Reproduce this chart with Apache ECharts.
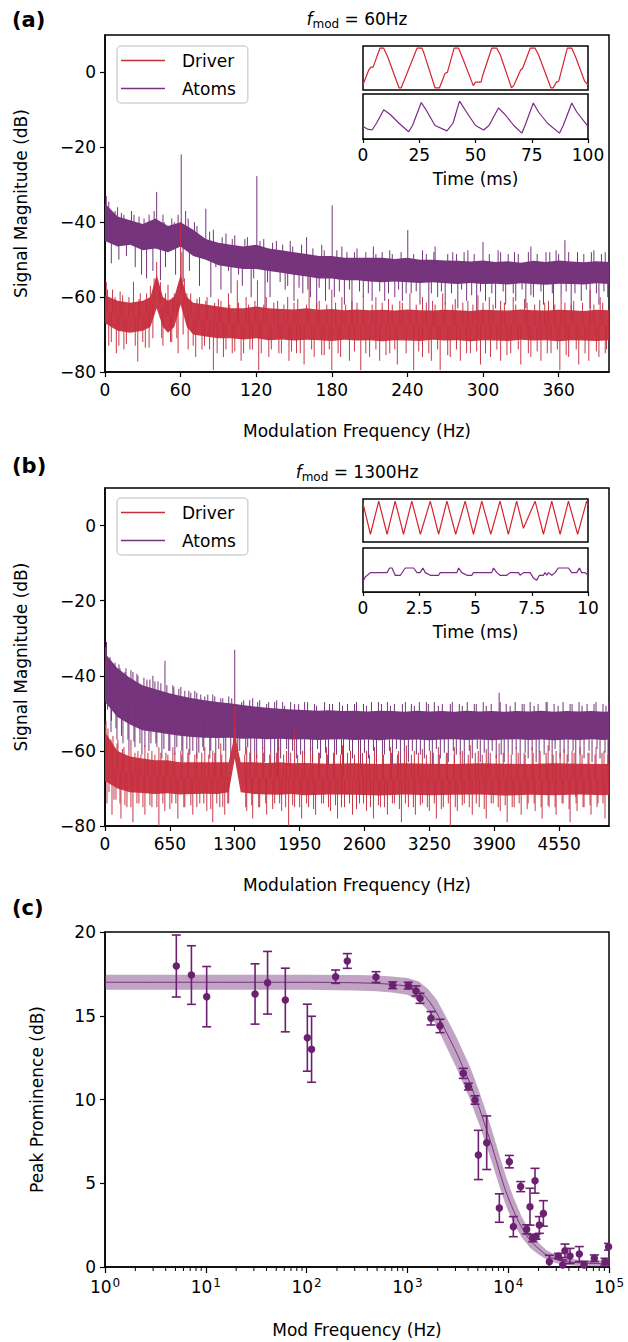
<!DOCTYPE html>
<html><head><meta charset="utf-8">
<script src="https://cdn.jsdelivr.net/npm/echarts@6.0.0/dist/echarts.min.js"></script>
<style>html,body{margin:0;padding:0;background:#fff}#c{width:628px;height:1342px}</style>
</head><body><div id="c"></div>
<script>
// ---------------- Panel (a): f_mod = 60 Hz ----------------
const aF = [0,10,20,30,40,50,60,70,80,90,100,110,120,130,140,150,160,170,180,190,200,210,220,230,240,250,260,270,280,290,300,310,320,330,340,350,360,370,380,390,400];
const aAtomsTop = [-35,-38.5,-39.5,-40.5,-39,-41,-40,-42,-44.5,-45.5,-46,-46.5,-46,-47,-47.5,-48,-48.5,-49,-49,-49.5,-49.5,-49.5,-49.5,-49.8,-49.5,-50,-50,-50.2,-50.3,-50.5,-50.2,-50.6,-50.4,-50.8,-50.3,-50.6,-50.2,-50.5,-50.7,-50.4,-50.6];
const aAtomsBot = [-45,-46.5,-46,-47.5,-47,-48,-46.5,-49,-50,-51.5,-52,-52.5,-52.5,-53,-53.5,-54,-54.5,-55,-55,-55.5,-55.5,-55.8,-56,-55.8,-56,-56.2,-56,-56.3,-56.5,-56.2,-56.5,-56.4,-56.6,-56.3,-56.5,-56.7,-56.4,-56.5,-56.6,-56.3,-56.5];
const aDF = [0,10,20,30,36,41,46,50,55,60,65,70,80,90,100,110,120,130,140,150,160,170,180,190,200,210,220,230,240,250,260,270,280,290,300,310,320,330,340,350,360,370,380,390,400];
const aDriverTop = [-59.5,-61,-61.5,-61,-60,-54,-60,-61,-60,-54,-60,-61.5,-62,-62.5,-63,-63,-62.5,-63,-63.2,-63.3,-63,-63.4,-63.2,-63.5,-63.3,-63.5,-63.4,-63.6,-63.3,-63.5,-63.6,-63.4,-63.5,-63.7,-63.4,-63.5,-63.6,-63.3,-63.5,-63.6,-63.4,-63.5,-63.7,-63.4,-63.5];
const aDriverBot = [-67,-69,-69.5,-69,-68,-63,-68,-69.5,-68,-62,-68,-70,-70.5,-71,-71,-71.3,-71,-71.5,-71.3,-71.6,-71.4,-71.5,-71.7,-71.4,-71.6,-71.5,-71.8,-71.5,-71.6,-71.7,-71.4,-71.6,-71.5,-71.8,-71.5,-71.6,-71.7,-71.4,-71.6,-71.5,-71.8,-71.5,-71.6,-71.7,-71.5];
const aAtomsUp = [[1,-33],[3,-34.5],[8,-37],[13,-37.5],[21,-37],[27,-38.5],[35,-38],[41,-31.9],[46,-38],[53,-39],[60.5,-21.9],[64,-37],[71,-40],[80,-36.4],[86,-42],[96,-43],[103,-43.5],[113,-44],[120.5,-27.7],[126,-44.5],[136,-45],[147,-45],[160,-44],[172,-46],[180.3,-35.5],[188,-46.5],[200,-47],[213,-46.5],[226,-47.5],[240.3,-42.1],[252,-47.5],[262,-46.5],[276,-48],[288,-47.5],[300,-45.3],[312,-47.5],[325,-48],[338,-46.5],[350,-48],[358,-47.5],[365,-44.8],[375,-48],[388,-47.5],[397,-48]];
const aAtomsDown = [[5,-51],[11,-50],[17,-49],[24,-52],[29,-54],[33,-55],[38,-53],[44,-55.5],[48,-52],[56,-54],[62,-56],[67,-53],[75,-57],[84,-60],[92,-58],[100,-59],[109,-57],[116,-60],[127,-63.5],[131,-60],[143,-58],[150,-61],[157,-59],[163,-60],[168,-65.2],[175,-61],[182,-60],[190,-62],[196,-66.9],[205,-60],[212,-61],[222,-61],[230,-60],[236,-61],[243,-59],[250,-62],[257,-64],[264,-60],[270,-62],[280,-63],[287,-61],[295,-65],[302,-61],[310,-63],[318,-62],[326,-61],[334,-63],[340,-60],[348,-62],[356,-64],[362,-60],[370,-65.5],[378,-61],[385,-63],[392,-62],[399,-60]];
const aAtomsFringe = [[4,-36.5],[7,-41],[10,-36],[15,-38],[18,-44],[23,-38],[26,-44],[31,-39],[34,-45.5],[39,-37],[43,-46],[47,-40],[51,-46],[55,-40],[58,-38],[62,-47],[66,-39],[69,-48],[73,-41],[77,-49],[83,-42.5],[88,-52],[93,-44],[98,-53],[101,-44.5],[106,-54],[111,-44.5],[118,-55],[123,-45],[129,-56],[133,-45.5],[139,-56],[141,-46],[145,-57],[149,-46.5],[154,-57.5],[156,-46],[161,-58],[165,-47],[170,-57.5],[174,-47.5],[178,-58],[184,-47.5],[186,-58.5],[192,-48],[194,-58],[198,-48],[202,-58.5],[207,-48],[209,-59],[215,-48.5],[218,-58.5],[220,-48],[225,-59],[228,-48.5],[233,-58],[235,-48],[239,-59],[245,-48.5],[247,-58.5],[255,-48.5],[259,-59],[261,-48],[267,-58.5],[272,-48.5],[275,-59],[279,-48.5],[283,-58],[285,-48],[291,-59.5],[293,-48.5],[298,-58.5],[305,-48.5],[307,-59],[314,-48],[316,-58.5],[320,-48.5],[324,-59],[328,-48.5],[331,-58],[336,-48],[338,-59.5],[343,-48.5],[346,-58.5],[353,-48],[355,-59],[360,-48.5],[366,-58.5],[368,-48],[373,-59],[380,-48.5],[382,-58],[386,-48],[390,-59],[394,-48.5],[396,-58.5]];
const aDriverUp = [[1,-56],[6,-58],[12,-58.5],[22.6,-55.9],[28,-59],[36,-57],[41,-50.6],[44,-56],[50,-56.7],[55,-59],[60,-39.9],[63,-55],[68,-59],[75,-60],[81,-60],[90,-60.5],[98,-59],[105,-55.5],[112,-60],[121,-55.5],[128,-60],[137,-61],[145,-60],[153,-60.5],[162,-54.7],[170,-61],[180,-58],[188,-60],[196,-61],[205,-59.5],[215,-60],[225,-60.5],[234,-61],[242,-59],[252,-60],[260,-61],[268,-59],[278,-60.5],[288,-61],[296,-59.5],[305,-60],[314,-61],[324,-60],[333,-60.5],[345,-60.8],[352,-61],[362,-60],[372,-61],[385,-58.1],[393,-60]];
const aDriverDown = [[3,-73],[9,-75],[15,-74],[26,-77.2],[32,-73.5],[38,-71],[46,-73],[53,-72],[58,-75],[66,-74],[72,-76],[79,-73],[86,-79.5],[94,-76],[101,-75],[108,-77],[115,-74],[122,-79.5],[130,-76],[138,-75],[146,-77],[152,-75],[158,-78],[166,-76],[174,-75.5],[180,-79.5],[187,-76],[194,-77],[203,-79.5],[210,-76],[218,-77],[226,-75],[232,-78],[245,-79.5],[252,-76],[259,-77],[266,-79.5],[274,-76],[282,-77],[290,-75],[298,-78],[306,-76],[314,-77],[322,-75],[330,-78],[338,-76],[346,-77],[354,-75],[361,-79.5],[368,-76],[376,-78],[384,-77],[392,-76],[398,-74]];
const aDriverFringe = [[2,-58],[5,-72],[8,-60],[11,-73],[14,-59.5],[17,-72.5],[19,-60],[24,-73],[27,-60.5],[30,-72],[33,-59],[35,-73.5],[39,-55],[43,-58],[45,-71],[48,-59],[52,-72],[54,-60],[57,-71],[61,-48],[62,-70],[65,-59],[70,-73],[73,-60.5],[77,-74],[80,-61],[83,-74],[87,-61.5],[89,-75],[92,-61],[96,-74],[99,-62],[103,-74.5],[106,-61.5],[110,-75],[114,-62],[117,-74],[119,-61],[124,-75],[126,-62],[132,-74],[134,-61.5],[140,-75],[142,-62],[148,-74.5],[150,-61.5],[155,-75],[160,-62],[164,-74],[168,-61.5],[172,-75.5],[176,-62],[178,-74],[183,-61.5],[185,-75],[191,-62],[198,-74.5],[200,-61.5],[207,-75],[212,-62],[215,-74],[220,-61.5],[223,-75.5],[228,-62],[230,-74],[236,-61.5],[239,-75],[247,-62],[249,-74.5],[255,-61.5],[257,-75],[262,-62],[264,-74],[270,-61.5],[272,-75.5],[276,-62],[279,-74],[284,-61.5],[287,-75],[292,-62],[295,-74.5],[300,-61.5],[302,-75],[308,-62],[311,-74],[317,-61.5],[319,-75.5],[326,-62],[328,-74],[335,-61.5],[336,-75],[341,-62],[343,-74.5],[349,-61.5],[351,-75],[357,-62],[359,-74],[365,-61.5],[366,-75.5],[370,-62],[374,-74],[379,-61.5],[381,-75],[388,-62],[390,-74.5],[395,-61.5],[397,-75]];
const aXTicks = [0,60,120,180,240,300,360];

// ---------------- Panel (b): f_mod = 1300 Hz ----------------
const bAtomsF = [0,125,250,375,500,625,750,875,1000,1125,1250,1375,1500,1625,1750,1875,2000,2125,2250,2375,2500,2625,2750,2875,3000,3125,3250,3375,3500,3625,3750,3875,4000,4125,4250,4375,4500,4625,4750,4875,5000,5050];
const bAtomsTop = [-34,-38,-40.5,-42.5,-43.5,-44.5,-45.3,-46,-46.5,-47,-47.3,-47.8,-48.2,-48.5,-48.8,-49,-49.1,-49.3,-49.2,-49.4,-49.3,-49.5,-49.3,-49.4,-49.6,-49.3,-49.5,-49.4,-49.6,-49.3,-49.5,-49.4,-49.6,-49.4,-49.5,-49.3,-49.6,-49.4,-49.5,-49.4,-49.6,-49.5];
const bAtomsBot = [-47,-51,-53,-54.5,-55,-55.5,-56,-56.3,-56.5,-56.6,-56.5,-56.8,-56.7,-56.9,-56.8,-57,-56.9,-57.1,-57,-56.9,-57.1,-57,-57.2,-56.9,-57.1,-57,-57.2,-57,-56.9,-57.1,-57,-57.2,-57,-56.9,-57.1,-57,-57.2,-57,-57.1,-56.9,-57.1,-57];
const bDriverF = [0,125,250,375,500,625,750,875,1000,1125,1240,1280,1300,1320,1360,1500,1625,1750,1875,2000,2250,2500,2750,3000,3250,3500,3750,4000,4250,4500,4750,5000,5050];
const bDriverTop = [-55,-60,-61.5,-62,-62.5,-62.5,-63,-63,-63,-63,-63,-58,-52,-58,-63,-63,-63.2,-63,-63.3,-63.2,-63.4,-63.3,-63.5,-63.3,-63.4,-63.5,-63.3,-63.4,-63.5,-63.3,-63.4,-63.5,-63.4];
const bDriverBot = [-68,-70,-71,-71.2,-71.5,-71.3,-71.6,-71.5,-71.4,-71.5,-71,-65,-62,-65,-71,-71.5,-71.6,-71.7,-71.5,-71.8,-71.6,-71.7,-71.9,-71.6,-71.8,-71.7,-71.6,-71.9,-71.7,-71.8,-71.6,-71.8,-71.7];
const bAtomsUp = [[5,-32.4],[40,-36],[90,-37],[150,-38],[200,-39],[260,-38.5],[330,-40],[420,-41],[480,-40],[531,-41.5],[601,-36],[680,-42.5],[760,-43],[840,-44],[920,-44.5],[1000,-45.5],[1080,-45],[1160,-46],[1240,-45.5],[1300,-33.1],[1370,-47],[1450,-46.5],[1530,-47],[1620,-47.5],[1700,-47],[1800,-48],[1900,-47.5],[2000,-47],[2120,-48],[2250,-47.5],[2380,-48],[2500,-47.5],[2620,-48],[2740,-47],[2860,-48],[2980,-47.5],[3100,-48],[3220,-47],[3340,-48],[3460,-47.5],[3580,-48],[3700,-47.5],[3820,-48],[3949,-44.5],[4060,-48],[4180,-47.5],[4300,-48],[4420,-47],[4540,-48],[4660,-47.5],[4780,-48],[4900,-47.5],[5020,-48]];
const bAtomsDown = [[60,-55],[120,-57],[180,-58],[240,-60],[300,-59],[370,-61],[440,-60],[510,-58],[570,-62],[640,-60],[700,-61],[780,-63],[850,-61],[920,-62],[990,-60],[1050,-62],[1110,-66.3],[1190,-60],[1260,-62],[1350,-60],[1410,-61],[1460,-64],[1520,-62],[1600,-63],[1700,-67.5],[1730,-67],[1760,-62],[1840,-64],[1920,-62],[2000,-61],[2080,-63],[2160,-62],[2240,-64],[2320,-61],[2390,-66.3],[2480,-62],[2560,-65],[2640,-62],[2720,-63],[2800,-61],[2880,-64],[2960,-66.3],[3040,-63],[3120,-61],[3200,-62],[3280,-64],[3360,-62],[3440,-63],[3520,-61],[3600,-64],[3680,-62],[3760,-63],[3840,-65],[3920,-62],[4000,-63],[4080,-61],[4160,-64],[4240,-62],[4320,-63],[4400,-61],[4480,-64],[4560,-62],[4640,-63],[4717,-72.2],[4800,-62],[4880,-63],[4960,-62],[5040,-70]];
const bAtomsFringe = [[15,-31],[25,-49],[50,-35],[65,-52],[100,-36.5],[110,-54],[140,-37],[165,-56],[210,-38],[230,-57],[280,-39],[290,-57.5],[320,-39.5],[350,-58],[390,-40.5],[400,-59],[450,-41],[460,-58],[500,-41.5],[520,-59],[560,-42],[590,-59.5],[620,-42.5],[650,-60],[690,-43],[720,-59],[740,-43.5],[770,-60],[800,-44],[820,-59.5],[860,-44.5],[880,-60],[900,-44],[940,-60.5],[960,-45],[980,-59],[1030,-45],[1060,-60],[1100,-45.5],[1140,-59.5],[1180,-46],[1210,-60],[1270,-46],[1330,-60],[1390,-46.5],[1430,-59],[1480,-46],[1500,-60],[1550,-46.5],[1580,-59.5],[1640,-47],[1660,-60.5],[1720,-46.5],[1740,-60],[1780,-47],[1820,-59.5],[1860,-47],[1880,-60],[1940,-47.5],[1960,-61],[2030,-47],[2060,-60],[2100,-47.5],[2130,-59.5],[2200,-47],[2210,-60.5],[2280,-47.5],[2300,-60],[2350,-47],[2370,-61],[2430,-47.5],[2450,-60],[2520,-47],[2540,-59.5],[2590,-47.5],[2600,-60.5],[2670,-47],[2690,-60],[2770,-47.5],[2780,-61],[2830,-47],[2850,-60],[2900,-47.5],[2920,-59.5],[3010,-47],[3000,-60.5],[3070,-47.5],[3080,-60],[3150,-47],[3160,-61],[3240,-47.5],[3250,-60],[3300,-47],[3320,-59.5],[3380,-47.5],[3400,-60.5],[3480,-47],[3490,-60],[3550,-47.5],[3560,-61],[3630,-47],[3650,-60],[3720,-47.5],[3730,-59.5],[3790,-47],[3800,-60.5],[3870,-47.5],[3880,-60],[3960,-47],[3970,-61],[4020,-47.5],[4040,-60],[4110,-47],[4120,-59.5],[4200,-47.5],[4210,-60.5],[4260,-47],[4280,-60],[4340,-47.5],[4350,-61],[4430,-47],[4450,-60],[4500,-47.5],[4510,-59.5],[4590,-47],[4600,-60.5],[4680,-47.5],[4690,-60],[4750,-47],[4760,-61],[4830,-47.5],[4850,-60],[4920,-47],[4930,-59.5],[4990,-47.5],[5010,-60.5],[5045,-47]];
const bDriverUp = [[5,-53],[30,-54],[80,-56],[130,-57],[190,-59],[260,-57],[330,-60],[400,-58.5],[470,-60],[540,-59],[610,-60.5],[680,-59],[760,-60],[840,-59.5],[920,-60.5],[1000,-59],[1080,-60],[1160,-58],[1300,-48],[1420,-59],[1500,-60],[1580,-59],[1660,-60.5],[1740,-59],[1820,-60],[1900,-54],[1980,-60],[2060,-59],[2140,-60.5],[2220,-59],[2300,-60],[2380,-58.5],[2460,-60],[2540,-59.5],[2620,-60],[2700,-59],[2780,-60.5],[2860,-59],[2940,-60],[3020,-58.5],[3100,-60],[3180,-59.5],[3260,-60],[3340,-59],[3420,-60.5],[3500,-59],[3580,-60],[3660,-58.5],[3740,-60],[3820,-59.5],[3949,-58],[4040,-60],[4120,-59],[4200,-60.5],[4280,-59],[4360,-60],[4440,-58.5],[4520,-60],[4600,-59.5],[4680,-60],[4760,-59],[4840,-60.5],[4920,-59],[5000,-60]];
const bDriverDown = [[20,-74],[70,-77],[110,-73],[160,-78],[220,-75],[280,-79],[340,-74],[400,-77],[470,-75],[540,-80],[600,-76],[670,-74],[730,-78],[800,-75],[880,-77],[950,-74],[1020,-76],[1080,-79],[1150,-75],[1200,-77],[1240,-74],[1420,-76],[1480,-78],[1550,-75],[1620,-77],[1700,-74],[1770,-76],[1840,-80],[1900,-75],[1970,-78],[2040,-75],[2110,-77],[2190,-74],[2260,-76],[2330,-78],[2400,-75],[2480,-77],[2550,-74],[2620,-76],[2690,-78],[2760,-75],[2830,-77],[2900,-74],[2970,-79],[3040,-75],[3110,-77],[3180,-74],[3250,-76],[3320,-78],[3390,-75],[3460,-80],[3530,-76],[3600,-74],[3680,-77],[3750,-75],[3820,-78],[3890,-74],[3960,-76],[4030,-79],[4100,-75],[4170,-77],[4240,-74],[4310,-76],[4380,-78],[4450,-75],[4520,-77],[4590,-74],[4660,-79],[4730,-76],[4800,-75],[4870,-77],[4940,-74],[5010,-78]];
const bDriverFringe = [[10,-52],[40,-71],[60,-57],[90,-73],[120,-58],[150,-74],[175,-59.5],[200,-74.5],[240,-60],[260,-75],[300,-60.5],[320,-74],[360,-61],[380,-75],[430,-60.5],[450,-74.5],[500,-61],[520,-75],[560,-60.5],[580,-74],[630,-61],[650,-75.5],[700,-60.5],[710,-74],[770,-61],[790,-75],[830,-60.5],[860,-74.5],[900,-61],[920,-75],[970,-60.5],[990,-74],[1040,-61],[1060,-75.5],[1100,-60.5],[1120,-74],[1170,-61],[1180,-75],[1210,-60],[1230,-74],[1400,-61],[1410,-75],[1450,-60.5],[1470,-74.5],[1520,-61],[1540,-75],[1590,-60.5],[1610,-74],[1650,-61],[1680,-75.5],[1720,-60.5],[1750,-74],[1790,-61],[1810,-75],[1860,-60.5],[1880,-74.5],[1930,-61],[1950,-75],[2000,-60.5],[2020,-74],[2080,-61],[2090,-75.5],[2150,-60.5],[2170,-74],[2230,-61],[2240,-75],[2290,-60.5],[2310,-74.5],[2360,-61],[2370,-75],[2430,-60.5],[2450,-74],[2500,-61],[2520,-75.5],[2580,-60.5],[2590,-74],[2650,-61],[2660,-75],[2720,-60.5],[2740,-74.5],[2790,-61],[2800,-75],[2870,-60.5],[2880,-74],[2930,-61],[2950,-75.5],[3000,-60.5],[3010,-74],[3070,-61],[3090,-75],[3140,-60.5],[3160,-74.5],[3220,-61],[3230,-75],[3290,-60.5],[3300,-74],[3350,-61],[3370,-75.5],[3430,-60.5],[3440,-74],[3500,-61],[3510,-75],[3560,-60.5],[3580,-74.5],[3640,-61],[3650,-75],[3710,-60.5],[3720,-74],[3780,-61],[3800,-75.5],[3860,-60.5],[3870,-74],[3920,-61],[3940,-75],[3990,-60.5],[4010,-74.5],[4070,-61],[4080,-75],[4140,-60.5],[4150,-74],[4210,-61],[4230,-75.5],[4290,-60.5],[4300,-74],[4350,-61],[4370,-75],[4420,-60.5],[4440,-74.5],[4490,-61],[4510,-75],[4560,-60.5],[4580,-74],[4630,-61],[4650,-75.5],[4700,-60.5],[4720,-74],[4780,-61],[4790,-75],[4850,-60.5],[4860,-74.5],[4910,-61],[4930,-75],[4980,-60.5],[4990,-74],[5040,-61]];
const bXTicks = [0,650,1300,1950,2600,3250,3900,4550];
const yTicksSpec = [-80,-60,-40,-20,0];

// ---------------- Insets (time traces) ----------------
const insA_DriverT = [0,2.5,3.5,4.5,7.5,9.2,11,16,17,20.5,24,26.2,27,32,34,36.5,37.5,40.5,42.5,44.5,49,50,52.5,53,57.2,59.5,61,66,67,70,71,74.3,76.5,78,83.5,84.5,86,87,90.8,92.8,94.5,98.5,100];
const insA_DriverV = [0.12,0.45,0.52,0.52,0.95,0.95,0.75,0.05,0.05,0.5,0.95,0.95,0.85,0.05,0.05,0.38,0.4,0.95,0.95,0.7,0.1,0.18,0.18,0.3,0.95,0.95,0.8,0.05,0.1,0.45,0.5,0.95,0.95,0.8,0.05,0.05,0.18,0.2,0.95,0.95,0.75,0.2,0.12];
const insA_AtomsT = [0,2,4,6,9.2,12,16,20.3,22,25.9,28,32,37.3,40,42.9,46,50,53.6,56,60.2,63,67,70.6,72,75.7,78,82,87.3,89,92.8,95,100];
const insA_AtomsV = [0.28,0.22,0.2,0.35,0.65,0.55,0.35,0.16,0.3,0.81,0.65,0.3,0.18,0.35,0.84,0.6,0.3,0.2,0.3,0.69,0.55,0.3,0.13,0.3,0.8,0.6,0.35,0.13,0.3,0.8,0.6,0.28];
const insB_DriverT = [0,0.33,0.70,1.07,1.43,1.80,2.17,2.55,2.99,3.36,3.73,4.12,4.54,4.91,5.28,5.68,6.09,6.46,6.83,7.13,7.65,8.02,8.39,8.76,9.13,9.54,9.94,10];
const insB_DriverV = [0.9,0.18,0.95,0.18,0.95,0.18,0.95,0.18,0.95,0.18,0.95,0.18,0.95,0.18,0.95,0.18,0.95,0.18,0.95,0.32,0.95,0.18,0.95,0.18,0.95,0.18,0.95,0.85];
const insB_AtomsT = [0.03,0.10,0.33,1.07,1.18,1.29,1.43,1.66,1.88,2.25,2.40,2.54,2.66,2.77,2.99,3.36,3.43,4.17,4.25,4.39,4.62,4.84,4.91,5.72,5.80,5.95,6.09,6.39,6.54,6.91,6.98,7.13,7.43,7.57,7.72,7.84,8.02,8.09,8.17,8.24,8.39,8.54,8.68,9.13,9.28,9.50,9.62,9.72,9.87,10];
const insB_AtomsV = [0.265,0.34,0.44,0.44,0.545,0.545,0.38,0.38,0.545,0.545,0.44,0.44,0.545,0.44,0.38,0.38,0.44,0.44,0.545,0.44,0.38,0.38,0.44,0.44,0.545,0.44,0.38,0.38,0.44,0.44,0.38,0.44,0.44,0.32,0.265,0.38,0.38,0.44,0.38,0.44,0.38,0.44,0.545,0.545,0.44,0.44,0.545,0.44,0.44,0.38];
const insA_Ticks = [0,25,50,75,100];
const insB_Ticks = [0,2.5,5,7.5,10];

// ---------------- Panel (c): peak prominence ----------------
const cF   = [5.1,7.2,10.2,30.8,41,61.5,101.7,112,194,253.5,488,714,1020,1217,1334,1714,2104,3586,4026,4690,5060,6120,8170,10260,11250,13300,15250,16450,17500,18450,18870,20370,22340,25580,31400,34750,36560,41050,50750,56500,71500,91200,99000];
const cVal = [17.97,17.43,16.14,16.3,16.97,15.94,13.69,13.0,17.33,18.27,17.31,16.82,16.8,16.48,16.04,14.85,14.39,11.56,10.77,9.97,6.69,7.42,3.52,6.29,2.41,4.8,2.25,3.6,1.71,5.15,1.81,2.51,3.2,0.32,0.66,0.12,0.97,0.66,0.77,0.12,0.52,0.32,1.21];
const cErr = [1.85,1.75,1.8,1.8,1.87,1.9,2.0,1.97,0.4,0.44,0.32,0.2,0.2,0.3,0.3,0.4,0.4,0.3,0.2,0.25,1.47,1.6,0.85,0.37,0.6,0.3,0.27,1.1,0.2,0.74,0.15,0.5,0.76,0.38,0.15,0.3,0.4,0.45,0.45,0.2,0.2,0.2,0.2];
const fitF  = [1,10,100,300,500,700,1000,1300,1600,1960,2455,3085,3600,4180,4700,5250,5900,6600,7400,8300,9500,11220,13500,16450,20000,24100,30000,38000,50000,70000,100000];
const fitV  = [17.0,17.0,17.0,16.97,16.93,16.87,16.75,16.5,15.95,15.15,13.97,12.77,11.85,10.98,10.15,9.37,8.45,7.58,6.6,5.6,4.5,3.4,2.4,1.6,1.1,0.72,0.45,0.32,0.25,0.21,0.2];
const fitHi = [17.45,17.45,17.45,17.43,17.4,17.35,17.25,17.05,16.6,15.95,14.85,13.7,12.8,11.95,11.15,10.35,9.45,8.55,7.55,6.55,5.4,4.2,3.05,2.1,1.45,1.0,0.68,0.52,0.44,0.4,0.4];
const fitLo = [16.55,16.55,16.55,16.51,16.46,16.39,16.25,15.9,15.3,14.35,13.1,11.85,10.9,10.0,9.15,8.4,7.45,6.6,5.65,4.7,3.65,2.65,1.8,1.15,0.75,0.45,0.22,0.12,0.06,0.02,0.0];
const cXMajor = [1,10,100,1000,10000,100000];
const cXMinor = [2,3,4,5,6,7,8,9,20,30,40,50,60,70,80,90,200,300,400,500,600,700,800,900,2000,3000,4000,5000,6000,7000,8000,9000,20000,30000,40000,50000,60000,70000,80000,90000];
const cYTicks = [0,5,10,15,20];

// ---------------- styling ----------------
const FONT = 'DejaVu Sans';
const C_ATOMS = '#76347c', C_DRIVER = '#c52d3d';
const C_ATOMS_IN = '#7b2a86', C_DRIVER_IN = '#d8232f';
const C_PT = '#6b2170';
const minus = v => (v < 0 ? '\u2212' + Math.abs(v) : String(v));
const plain = v => String(v);

function interp(fs, vs, f) {
  if (f <= fs[0]) return vs[0];
  for (let i = 1; i < fs.length; i++) if (f <= fs[i]) {
    const t = (f - fs[i-1]) / (fs[i] - fs[i-1]); return vs[i-1] + t * (vs[i] - vs[i-1]);
  }
  return vs[vs.length - 1];
}
function bandSeries(name, ax, fs, top, bot, color, z, opacity) {
  return { type: 'custom', name, xAxisIndex: ax, yAxisIndex: ax, clip: true, z, silent: true,
    itemStyle: { color }, data: [[fs[0], top[0]]],
    renderItem: (p, api) => {
      const pts = [];
      for (let i = 0; i < fs.length; i++) pts.push(api.coord([fs[i], top[i]]));
      for (let i = fs.length - 1; i >= 0; i--) pts.push(api.coord([fs[i], bot[i]]));
      return { type: 'polygon', shape: { points: pts }, style: { fill: color, opacity } };
    } };
}
function spikeSeries(name, ax, spikes, fs, top, bot, color, z, opacity) {
  return { type: 'custom', name, xAxisIndex: ax, yAxisIndex: ax, clip: true, z, silent: true,
    itemStyle: { color }, data: spikes,
    renderItem: (p, api) => {
      const f = api.value(0), v = api.value(1);
      const mid = (interp(fs, top, f) + interp(fs, bot, f)) / 2;
      const a = api.coord([f, v]), b = api.coord([f, mid]);
      return { type: 'line', shape: { x1: a[0], y1: a[1], x2: b[0], y2: b[1] },
        style: { stroke: color, lineWidth: 1, opacity } };
    } };
}
function specX(grid, max, ticks) {
  return { type: 'value', gridIndex: grid, min: 0, max,
    name: 'Modulation Frequency (Hz)', nameLocation: 'middle', nameGap: 50,
    nameTextStyle: { fontFamily: FONT, fontSize: 17, color: '#000' },
    axisLine: { onZero: false, lineStyle: { color: '#000', width: 1.5 } },
    axisTick: { customValues: ticks, length: 5, lineStyle: { color: '#000', width: 1.2 } },
    axisLabel: { customValues: ticks, fontFamily: FONT, fontSize: 17, color: '#000', margin: 9, formatter: plain },
    splitLine: { show: false } };
}
function specY(grid) {
  return { type: 'value', gridIndex: grid, min: -80, max: 10,
    name: 'Signal Magnitude (dB)', nameLocation: 'middle', nameGap: 76,
    nameTextStyle: { fontFamily: FONT, fontSize: 17, color: '#000' },
    axisLine: { onZero: false, lineStyle: { color: '#000', width: 1.5 } },
    axisTick: { customValues: yTicksSpec, length: 5, lineStyle: { color: '#000', width: 1.2 } },
    axisLabel: { customValues: yTicksSpec, fontFamily: FONT, fontSize: 17, color: '#000', margin: 9, formatter: minus },
    splitLine: { show: false } };
}
function insetX(grid, max, ticks, withLabels) {
  if (!withLabels) return { type: 'value', gridIndex: grid, min: 0, max, show: false };
  return { type: 'value', gridIndex: grid, min: 0, max,
    name: 'Time (ms)', nameLocation: 'middle', nameGap: 31,
    nameTextStyle: { fontFamily: FONT, fontSize: 17, color: '#000' },
    axisLine: { onZero: false, lineStyle: { color: '#000', width: 1.5 } },
    axisTick: { customValues: ticks, length: 4, lineStyle: { color: '#000', width: 1.2 } },
    axisLabel: { customValues: ticks, fontFamily: FONT, fontSize: 17, color: '#000', margin: 7, formatter: plain },
    splitLine: { show: false } };
}
const insetY = g => ({ type: 'value', gridIndex: g, min: 0, max: 1, show: false });
const border = { show: true, borderColor: '#000', borderWidth: 1.5, backgroundColor: 'transparent' };
const insetBorder = { show: true, borderColor: '#000', borderWidth: 1.5, backgroundColor: '#fff' };
function legendAt(top) {
  return { orient: 'vertical', left: 117, top, selectedMode: false,
    itemWidth: 44, itemHeight: 1.3, itemGap: 11, padding: [6, 12, 6, 4],
    backgroundColor: 'rgba(255,255,255,0.8)', borderColor: '#d4d4d4', borderWidth: 1.5, borderRadius: 4,
    textStyle: { fontFamily: FONT, fontSize: 17, color: '#000', padding: [0, 0, 0, 12] },
    data: [{ name: 'Driver', icon: 'rect', itemStyle: { color: C_DRIVER } },
           { name: 'Atoms', icon: 'rect', itemStyle: { color: C_ATOMS } }] };
}
const pair = (xs, ys) => xs.map((x, i) => [x, ys[i]]);
const inLine = (name, xi, yi, xs, ys, color) => ({ type: 'line', name: name + ' trace', xAxisIndex: xi, yAxisIndex: yi,
  data: pair(xs, ys), showSymbol: false, silent: true, lineStyle: { color, width: 1.2 }, z: 5 });
const title = (txt, y) => ({ type: 'text', x: 357, y, style: {
  text: '{i|f}{s|mod}{n| = ' + txt + '}', align: 'center', verticalAlign: 'middle',
  rich: { i: { fontFamily: FONT, fontSize: 17, fontStyle: 'italic', fill: '#000', lineHeight: 22 },
          s: { fontFamily: FONT, fontSize: 12, fill: '#000', lineHeight: 22, verticalAlign: 'bottom', padding: [9, 0, 0, 0] },
          n: { fontFamily: FONT, fontSize: 17, fill: '#000', lineHeight: 22 } } } });
const plabel = (t, y) => ({ type: 'text', x: 12, y, style: { text: t, font: 'bold 21px "DejaVu Sans"', fill: '#000', verticalAlign: 'middle' } });

const chart = echarts.init(document.getElementById('c'), null, { renderer: 'svg', width: 628, height: 1342 });
const spectrum = (ax, fs, top, bot, lists, name, color, z, op) =>
  [bandSeries(name, ax, fs, top, bot, color, z, op)].concat(lists.map(l => spikeSeries(name, ax, l, fs, top, bot, color, z, op)));
chart.setOption({
  animation: false,
  backgroundColor: '#fff',
  grid: [
    Object.assign({ left: 105, top: 35, width: 504, height: 337 }, border),
    Object.assign({ left: 105, top: 488, width: 504, height: 338 }, border),
    Object.assign({ left: 105, top: 932, width: 504, height: 335 }, border),
    Object.assign({ left: 363, top: 46, width: 225, height: 44, z: 4 }, insetBorder),
    Object.assign({ left: 363, top: 94, width: 225, height: 45, z: 4 }, insetBorder),
    Object.assign({ left: 363, top: 499, width: 225, height: 43, z: 4 }, insetBorder),
    Object.assign({ left: 363, top: 548, width: 225, height: 44, z: 4 }, insetBorder)
  ],
  legend: [legendAt(46), legendAt(498)],
  xAxis: [
    specX(0, 400, aXTicks),
    specX(1, 5050, bXTicks),
    { type: 'log', logBase: 10, gridIndex: 2, min: 1, max: 100000, position: 'bottom',
      name: 'Mod Frequency (Hz)', nameLocation: 'middle', nameGap: 54,
      nameTextStyle: { fontFamily: FONT, fontSize: 17, color: '#000' },
      axisLine: { onZero: false, lineStyle: { color: '#000', width: 1.5 } },
      axisTick: { customValues: cXMajor, length: 6, lineStyle: { color: '#000', width: 1.2 } },
      axisLabel: { customValues: cXMajor, margin: 10, color: '#000', fontFamily: FONT, fontSize: 17,
        formatter: v => '10{s|' + Math.round(Math.log10(v)) + '}',
        rich: { s: { fontFamily: FONT, fontSize: 12, color: '#000', verticalAlign: 'top', padding: [0, 0, 8, 1] } } },
      splitLine: { show: false } },
    insetX(3, 100, insA_Ticks, false),
    insetX(4, 100, insA_Ticks, true),
    insetX(5, 10, insB_Ticks, false),
    insetX(6, 10, insB_Ticks, true)
  ],
  yAxis: [
    specY(0), specY(1),
    { type: 'value', gridIndex: 2, min: 0, max: 20,
      name: 'Peak Prominence (dB)', nameLocation: 'middle', nameGap: 60,
      nameTextStyle: { fontFamily: FONT, fontSize: 17, color: '#000' },
      axisLine: { onZero: false, lineStyle: { color: '#000', width: 1.5 } },
      axisTick: { customValues: cYTicks, length: 5, lineStyle: { color: '#000', width: 1.2 } },
      axisLabel: { customValues: cYTicks, fontFamily: FONT, fontSize: 17, color: '#000', margin: 9 },
      splitLine: { show: false } },
    insetY(3), insetY(4), insetY(5), insetY(6)
  ],
  graphic: [
    plabel('(a)', 20), plabel('(b)', 466), plabel('(c)', 908),
    title('60Hz', 19), title('1300Hz', 472)
  ],
  series: [].concat(
    spectrum(0, aF, aAtomsTop, aAtomsBot, [aAtomsUp, aAtomsDown, aAtomsFringe], 'Atoms', C_ATOMS, 2, 1),
    spectrum(0, aDF, aDriverTop, aDriverBot, [aDriverUp, aDriverDown, aDriverFringe], 'Driver', C_DRIVER, 3, 0.95),
    spectrum(1, bAtomsF, bAtomsTop, bAtomsBot, [bAtomsUp, bAtomsDown, bAtomsFringe], 'Atoms', C_ATOMS, 2, 1),
    spectrum(1, bDriverF, bDriverTop, bDriverBot, [bDriverUp, bDriverDown, bDriverFringe], 'Driver', C_DRIVER, 3, 0.95),
    [
    inLine('Driver', 3, 3, insA_DriverT, insA_DriverV, C_DRIVER_IN),
    inLine('Atoms', 4, 4, insA_AtomsT, insA_AtomsV, C_ATOMS_IN),
    inLine('Driver', 5, 5, insB_DriverT, insB_DriverV, C_DRIVER_IN),
    inLine('Atoms', 6, 6, insB_AtomsT, insB_AtomsV, C_ATOMS_IN),
    { type: 'custom', name: 'Minor ticks', xAxisIndex: 2, yAxisIndex: 2, clip: false, z: 6, silent: true,
      data: cXMinor.map(v => [v, 0]),
      renderItem: (p, api) => {
        const c = api.coord([api.value(0), 0]);
        return { type: 'line', shape: { x1: c[0], y1: c[1] + 0.75, x2: c[0], y2: c[1] + 4 },
          style: { stroke: '#000', lineWidth: 1 } };
      } },
    { type: 'custom', name: 'Fit band', xAxisIndex: 2, yAxisIndex: 2, clip: true, z: 2, silent: true,
      data: [[fitF[0], fitHi[0]]],
      renderItem: (p, api) => {
        const pts = [];
        for (let i = 0; i < fitF.length; i++) pts.push(api.coord([fitF[i], fitHi[i]]));
        for (let i = fitF.length - 1; i >= 0; i--) pts.push(api.coord([fitF[i], fitLo[i]]));
        return { type: 'polygon', shape: { points: pts }, style: { fill: 'rgba(118,52,124,0.45)' } };
      } },
    { type: 'line', name: 'Fit', xAxisIndex: 2, yAxisIndex: 2, data: pair(fitF, fitV), showSymbol: false,
      smooth: 0.3, silent: true, lineStyle: { color: C_ATOMS, width: 1 }, z: 3 },
    { type: 'custom', name: 'Error', xAxisIndex: 2, yAxisIndex: 2, clip: true, z: 4, silent: true,
      data: cF.map((f, i) => [f, cVal[i], cErr[i]]),
      renderItem: (p, api) => {
        const f = api.value(0), v = api.value(1), e = api.value(2);
        const t = api.coord([f, v + e]), b = api.coord([f, v - e]);
        const w = 4.5, st = { stroke: C_PT, lineWidth: 1.6 };
        return { type: 'group', children: [
          { type: 'line', shape: { x1: t[0], y1: t[1], x2: b[0], y2: b[1] }, style: st },
          { type: 'line', shape: { x1: t[0] - w, y1: t[1], x2: t[0] + w, y2: t[1] }, style: st },
          { type: 'line', shape: { x1: b[0] - w, y1: b[1], x2: b[0] + w, y2: b[1] }, style: st } ] };
      } },
    { type: 'scatter', name: 'Data', xAxisIndex: 2, yAxisIndex: 2, data: pair(cF, cVal),
      symbolSize: 7.5, itemStyle: { color: C_PT, opacity: 1 }, z: 5, silent: true }
  ])
});
</script></body></html>
